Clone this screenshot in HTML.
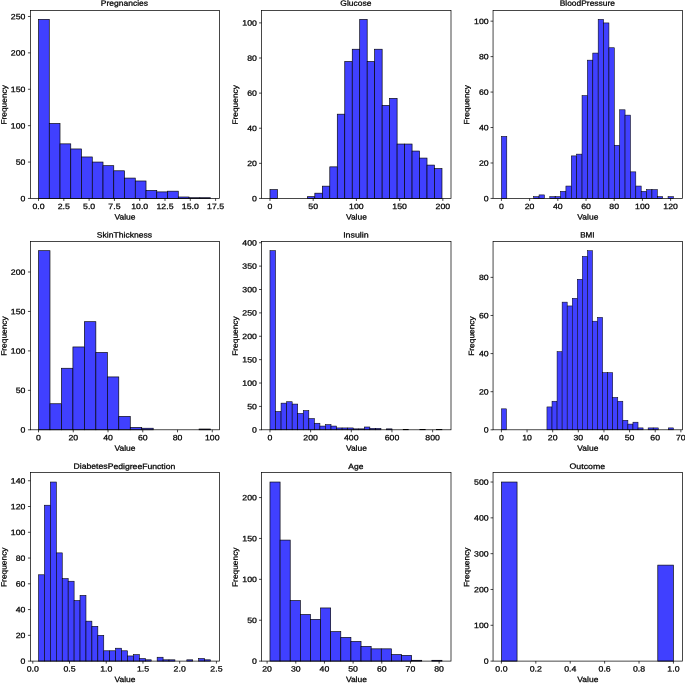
<!DOCTYPE html>
<html><head><meta charset="utf-8"><title>Histograms</title>
<style>
html,body{margin:0;padding:0;background:#fff;}
body{width:685px;height:683px;overflow:hidden;}
svg{display:block;will-change:transform;}
text{font-family:"Liberation Sans",sans-serif;font-size:7.7px;fill:#000;stroke:#000;stroke-width:0.25px;}
</style></head><body>
<svg width="685" height="683" viewBox="0 0 685 683">
<rect width="685" height="683" fill="#fff"/>
<g id="p0">
<g fill="#4040ff" stroke="#000" stroke-width="0.65">
<rect x="38.52" y="19.38" width="10.75" height="179.07"/>
<rect x="49.27" y="123.47" width="10.75" height="74.98"/>
<rect x="60.02" y="143.86" width="10.75" height="54.59"/>
<rect x="70.77" y="148.95" width="10.75" height="49.5"/>
<rect x="81.52" y="156.96" width="10.75" height="41.49"/>
<rect x="92.27" y="162.05" width="10.75" height="36.4"/>
<rect x="103.02" y="165.69" width="10.75" height="32.76"/>
<rect x="113.77" y="170.79" width="10.75" height="27.66"/>
<rect x="124.52" y="178.07" width="10.75" height="20.38"/>
<rect x="135.28" y="180.98" width="10.75" height="17.47"/>
<rect x="146.03" y="190.44" width="10.75" height="8.01"/>
<rect x="156.78" y="191.9" width="10.75" height="6.55"/>
<rect x="167.53" y="191.17" width="10.75" height="7.28"/>
<rect x="178.28" y="196.99" width="10.75" height="1.46"/>
<rect x="189.03" y="197.72" width="10.75" height="0.73"/>
<rect x="199.78" y="197.72" width="10.75" height="0.73"/>
</g>
<path d="M38.52 198.45v2.5M63.82 198.45v2.5M89.11 198.45v2.5M114.41 198.45v2.5M139.7 198.45v2.5M165 198.45v2.5M190.29 198.45v2.5M215.59 198.45v2.5M30.45 198.45h-2.5M30.45 162.05h-2.5M30.45 125.66h-2.5M30.45 89.26h-2.5M30.45 52.87h-2.5M30.45 16.47h-2.5" stroke="#000" stroke-width="0.72" fill="none"/>
<rect x="30.45" y="10.5" width="189.05" height="187.95" fill="none" stroke="#000" stroke-width="0.72"/>
<text transform="matrix(1 0.002 0 1 38.52 209)" text-anchor="middle" textLength="12.17" lengthAdjust="spacingAndGlyphs">0.0</text>
<text transform="matrix(1 0.002 0 1 63.82 209)" text-anchor="middle" textLength="12.17" lengthAdjust="spacingAndGlyphs">2.5</text>
<text transform="matrix(1 0.002 0 1 89.11 209)" text-anchor="middle" textLength="12.17" lengthAdjust="spacingAndGlyphs">5.0</text>
<text transform="matrix(1 0.002 0 1 114.41 209)" text-anchor="middle" textLength="12.17" lengthAdjust="spacingAndGlyphs">7.5</text>
<text transform="matrix(1 0.002 0 1 139.7 209)" text-anchor="middle" textLength="17.03" lengthAdjust="spacingAndGlyphs">10.0</text>
<text transform="matrix(1 0.002 0 1 165 209)" text-anchor="middle" textLength="17.03" lengthAdjust="spacingAndGlyphs">12.5</text>
<text transform="matrix(1 0.002 0 1 190.29 209)" text-anchor="middle" textLength="17.03" lengthAdjust="spacingAndGlyphs">15.0</text>
<text transform="matrix(1 0.002 0 1 215.59 209)" text-anchor="middle" textLength="17.03" lengthAdjust="spacingAndGlyphs">17.5</text>
<text transform="matrix(1 0.002 0 1 25.4 201.2)" text-anchor="end" textLength="4.87" lengthAdjust="spacingAndGlyphs">0</text>
<text transform="matrix(1 0.002 0 1 25.4 164.8)" text-anchor="end" textLength="9.73" lengthAdjust="spacingAndGlyphs">50</text>
<text transform="matrix(1 0.002 0 1 25.4 128.41)" text-anchor="end" textLength="14.6" lengthAdjust="spacingAndGlyphs">100</text>
<text transform="matrix(1 0.002 0 1 25.4 92.01)" text-anchor="end" textLength="14.6" lengthAdjust="spacingAndGlyphs">150</text>
<text transform="matrix(1 0.002 0 1 25.4 55.62)" text-anchor="end" textLength="14.6" lengthAdjust="spacingAndGlyphs">200</text>
<text transform="matrix(1 0.002 0 1 25.4 19.22)" text-anchor="end" textLength="14.6" lengthAdjust="spacingAndGlyphs">250</text>
<text transform="matrix(1 0.002 0 1 124.93 219.55)" text-anchor="middle" textLength="21.01" lengthAdjust="spacingAndGlyphs">Value</text>
<text transform="matrix(1 0.002 0 1 124.43 5.75)" text-anchor="middle" textLength="47.34" lengthAdjust="spacingAndGlyphs">Pregnancies</text>
<text transform="matrix(0.002 -1 1 0 6.63 104.86)" text-anchor="middle" textLength="39.52" lengthAdjust="spacingAndGlyphs">Frequency</text>
</g>
<g id="p1">
<g fill="#4040ff" stroke="#000" stroke-width="0.65">
<rect x="269.97" y="189.67" width="7.48" height="8.78"/>
<rect x="307.36" y="196.69" width="7.48" height="1.76"/>
<rect x="314.84" y="193.18" width="7.48" height="5.27"/>
<rect x="322.32" y="186.16" width="7.48" height="12.29"/>
<rect x="329.8" y="166.85" width="7.48" height="31.6"/>
<rect x="337.28" y="114.18" width="7.48" height="84.27"/>
<rect x="344.76" y="61.52" width="7.48" height="136.93"/>
<rect x="352.24" y="49.23" width="7.48" height="149.22"/>
<rect x="359.71" y="19.38" width="7.48" height="179.07"/>
<rect x="367.19" y="61.52" width="7.48" height="136.93"/>
<rect x="374.67" y="49.23" width="7.48" height="149.22"/>
<rect x="382.15" y="105.41" width="7.48" height="93.04"/>
<rect x="389.63" y="98.38" width="7.48" height="100.07"/>
<rect x="397.11" y="144.03" width="7.48" height="54.42"/>
<rect x="404.59" y="144.03" width="7.48" height="54.42"/>
<rect x="412.06" y="151.05" width="7.48" height="47.4"/>
<rect x="419.54" y="158.07" width="7.48" height="40.38"/>
<rect x="427.02" y="165.09" width="7.48" height="33.36"/>
<rect x="434.5" y="168.61" width="7.48" height="29.84"/>
</g>
<path d="M269.97 198.45v2.5M313.19 198.45v2.5M356.41 198.45v2.5M399.63 198.45v2.5M442.84 198.45v2.5M261.55 198.45h-2.5M261.55 163.34h-2.5M261.55 128.23h-2.5M261.55 93.12h-2.5M261.55 58.01h-2.5M261.55 22.89h-2.5" stroke="#000" stroke-width="0.72" fill="none"/>
<rect x="261.55" y="10.5" width="189.45" height="187.95" fill="none" stroke="#000" stroke-width="0.72"/>
<text transform="matrix(1 0.002 0 1 269.97 209)" text-anchor="middle" textLength="4.87" lengthAdjust="spacingAndGlyphs">0</text>
<text transform="matrix(1 0.002 0 1 313.19 209)" text-anchor="middle" textLength="9.73" lengthAdjust="spacingAndGlyphs">50</text>
<text transform="matrix(1 0.002 0 1 356.41 209)" text-anchor="middle" textLength="14.6" lengthAdjust="spacingAndGlyphs">100</text>
<text transform="matrix(1 0.002 0 1 399.63 209)" text-anchor="middle" textLength="14.6" lengthAdjust="spacingAndGlyphs">150</text>
<text transform="matrix(1 0.002 0 1 442.84 209)" text-anchor="middle" textLength="14.6" lengthAdjust="spacingAndGlyphs">200</text>
<text transform="matrix(1 0.002 0 1 256.95 201.2)" text-anchor="end" textLength="4.87" lengthAdjust="spacingAndGlyphs">0</text>
<text transform="matrix(1 0.002 0 1 256.95 166.09)" text-anchor="end" textLength="9.73" lengthAdjust="spacingAndGlyphs">20</text>
<text transform="matrix(1 0.002 0 1 256.95 130.98)" text-anchor="end" textLength="9.73" lengthAdjust="spacingAndGlyphs">40</text>
<text transform="matrix(1 0.002 0 1 256.95 95.87)" text-anchor="end" textLength="9.73" lengthAdjust="spacingAndGlyphs">60</text>
<text transform="matrix(1 0.002 0 1 256.95 60.76)" text-anchor="end" textLength="9.73" lengthAdjust="spacingAndGlyphs">80</text>
<text transform="matrix(1 0.002 0 1 256.95 25.64)" text-anchor="end" textLength="14.6" lengthAdjust="spacingAndGlyphs">100</text>
<text transform="matrix(1 0.002 0 1 356.38 219.55)" text-anchor="middle" textLength="21.01" lengthAdjust="spacingAndGlyphs">Value</text>
<text transform="matrix(1 0.002 0 1 355.88 5.75)" text-anchor="middle" textLength="31.08" lengthAdjust="spacingAndGlyphs">Glucose</text>
<text transform="matrix(0.002 -1 1 0 237.73 104.86)" text-anchor="middle" textLength="39.52" lengthAdjust="spacingAndGlyphs">Frequency</text>
</g>
<g id="p2">
<g fill="#4040ff" stroke="#000" stroke-width="0.54">
<rect x="501.42" y="136.4" width="5.38" height="62.05"/>
<rect x="533.67" y="196.68" width="5.38" height="1.77"/>
<rect x="539.05" y="194.9" width="5.38" height="3.55"/>
<rect x="549.8" y="196.68" width="5.38" height="1.77"/>
<rect x="555.17" y="196.68" width="5.38" height="1.77"/>
<rect x="560.55" y="191.36" width="5.38" height="7.09"/>
<rect x="565.92" y="186.04" width="5.38" height="12.41"/>
<rect x="571.3" y="155.9" width="5.38" height="42.55"/>
<rect x="576.67" y="154.13" width="5.38" height="44.32"/>
<rect x="582.05" y="95.62" width="5.38" height="102.83"/>
<rect x="587.43" y="60.16" width="5.38" height="138.29"/>
<rect x="592.8" y="53.07" width="5.38" height="145.38"/>
<rect x="598.18" y="19.38" width="5.38" height="179.07"/>
<rect x="603.55" y="22.93" width="5.38" height="175.52"/>
<rect x="608.93" y="47.75" width="5.38" height="150.7"/>
<rect x="614.3" y="145.26" width="5.38" height="53.19"/>
<rect x="619.68" y="109.8" width="5.38" height="88.65"/>
<rect x="625.05" y="115.12" width="5.38" height="83.33"/>
<rect x="630.43" y="171.86" width="5.38" height="26.59"/>
<rect x="635.8" y="186.04" width="5.38" height="12.41"/>
<rect x="641.18" y="191.36" width="5.38" height="7.09"/>
<rect x="646.55" y="189.59" width="5.38" height="8.86"/>
<rect x="651.93" y="189.59" width="5.38" height="8.86"/>
<rect x="657.3" y="196.68" width="5.38" height="1.77"/>
<rect x="668.05" y="196.68" width="5.38" height="1.77"/>
</g>
<path d="M501.42 198.45v2.5M529.62 198.45v2.5M557.82 198.45v2.5M586.02 198.45v2.5M614.21 198.45v2.5M642.41 198.45v2.5M670.61 198.45v2.5M493.05 198.45h-2.5M493.05 162.99h-2.5M493.05 127.53h-2.5M493.05 92.07h-2.5M493.05 56.62h-2.5M493.05 21.16h-2.5" stroke="#000" stroke-width="0.72" fill="none"/>
<rect x="493.05" y="10.5" width="189.4" height="187.95" fill="none" stroke="#000" stroke-width="0.72"/>
<text transform="matrix(1 0.002 0 1 501.42 209)" text-anchor="middle" textLength="4.87" lengthAdjust="spacingAndGlyphs">0</text>
<text transform="matrix(1 0.002 0 1 529.62 209)" text-anchor="middle" textLength="9.73" lengthAdjust="spacingAndGlyphs">20</text>
<text transform="matrix(1 0.002 0 1 557.82 209)" text-anchor="middle" textLength="9.73" lengthAdjust="spacingAndGlyphs">40</text>
<text transform="matrix(1 0.002 0 1 586.02 209)" text-anchor="middle" textLength="9.73" lengthAdjust="spacingAndGlyphs">60</text>
<text transform="matrix(1 0.002 0 1 614.21 209)" text-anchor="middle" textLength="9.73" lengthAdjust="spacingAndGlyphs">80</text>
<text transform="matrix(1 0.002 0 1 642.41 209)" text-anchor="middle" textLength="14.6" lengthAdjust="spacingAndGlyphs">100</text>
<text transform="matrix(1 0.002 0 1 670.61 209)" text-anchor="middle" textLength="14.6" lengthAdjust="spacingAndGlyphs">120</text>
<text transform="matrix(1 0.002 0 1 488.65 201.2)" text-anchor="end" textLength="4.87" lengthAdjust="spacingAndGlyphs">0</text>
<text transform="matrix(1 0.002 0 1 488.65 165.74)" text-anchor="end" textLength="9.73" lengthAdjust="spacingAndGlyphs">20</text>
<text transform="matrix(1 0.002 0 1 488.65 130.28)" text-anchor="end" textLength="9.73" lengthAdjust="spacingAndGlyphs">40</text>
<text transform="matrix(1 0.002 0 1 488.65 94.82)" text-anchor="end" textLength="9.73" lengthAdjust="spacingAndGlyphs">60</text>
<text transform="matrix(1 0.002 0 1 488.65 59.37)" text-anchor="end" textLength="9.73" lengthAdjust="spacingAndGlyphs">80</text>
<text transform="matrix(1 0.002 0 1 488.65 23.91)" text-anchor="end" textLength="14.6" lengthAdjust="spacingAndGlyphs">100</text>
<text transform="matrix(1 0.002 0 1 587.83 219.55)" text-anchor="middle" textLength="21.01" lengthAdjust="spacingAndGlyphs">Value</text>
<text transform="matrix(1 0.002 0 1 587.33 5.75)" text-anchor="middle" textLength="55.32" lengthAdjust="spacingAndGlyphs">BloodPressure</text>
<text transform="matrix(0.002 -1 1 0 469.23 104.86)" text-anchor="middle" textLength="39.52" lengthAdjust="spacingAndGlyphs">Frequency</text>
</g>
<g id="p3">
<g fill="#4040ff" stroke="#000" stroke-width="0.65">
<rect x="38.52" y="250.69" width="11.47" height="179.11"/>
<rect x="49.99" y="403.76" width="11.47" height="26.04"/>
<rect x="61.46" y="368.25" width="11.47" height="61.55"/>
<rect x="72.92" y="346.95" width="11.47" height="82.85"/>
<rect x="84.39" y="321.7" width="11.47" height="108.1"/>
<rect x="95.86" y="352.47" width="11.47" height="77.33"/>
<rect x="107.32" y="376.93" width="11.47" height="52.87"/>
<rect x="118.79" y="416.39" width="11.47" height="13.41"/>
<rect x="130.26" y="427.43" width="11.47" height="2.37"/>
<rect x="141.73" y="428.22" width="11.47" height="1.58"/>
<rect x="199.06" y="429.01" width="11.47" height="0.79"/>
</g>
<path d="M38.52 429.8v2.5M73.27 429.8v2.5M108.02 429.8v2.5M142.77 429.8v2.5M177.52 429.8v2.5M212.27 429.8v2.5M30.45 429.8h-2.5M30.45 390.35h-2.5M30.45 350.9h-2.5M30.45 311.44h-2.5M30.45 271.99h-2.5" stroke="#000" stroke-width="0.72" fill="none"/>
<rect x="30.45" y="241.5" width="189.05" height="188.3" fill="none" stroke="#000" stroke-width="0.72"/>
<text transform="matrix(1 0.002 0 1 38.52 440.35)" text-anchor="middle" textLength="4.87" lengthAdjust="spacingAndGlyphs">0</text>
<text transform="matrix(1 0.002 0 1 73.27 440.35)" text-anchor="middle" textLength="9.73" lengthAdjust="spacingAndGlyphs">20</text>
<text transform="matrix(1 0.002 0 1 108.02 440.35)" text-anchor="middle" textLength="9.73" lengthAdjust="spacingAndGlyphs">40</text>
<text transform="matrix(1 0.002 0 1 142.77 440.35)" text-anchor="middle" textLength="9.73" lengthAdjust="spacingAndGlyphs">60</text>
<text transform="matrix(1 0.002 0 1 177.52 440.35)" text-anchor="middle" textLength="9.73" lengthAdjust="spacingAndGlyphs">80</text>
<text transform="matrix(1 0.002 0 1 212.27 440.35)" text-anchor="middle" textLength="14.6" lengthAdjust="spacingAndGlyphs">100</text>
<text transform="matrix(1 0.002 0 1 25.4 432.55)" text-anchor="end" textLength="4.87" lengthAdjust="spacingAndGlyphs">0</text>
<text transform="matrix(1 0.002 0 1 25.4 393.1)" text-anchor="end" textLength="9.73" lengthAdjust="spacingAndGlyphs">50</text>
<text transform="matrix(1 0.002 0 1 25.4 353.65)" text-anchor="end" textLength="14.6" lengthAdjust="spacingAndGlyphs">100</text>
<text transform="matrix(1 0.002 0 1 25.4 314.19)" text-anchor="end" textLength="14.6" lengthAdjust="spacingAndGlyphs">150</text>
<text transform="matrix(1 0.002 0 1 25.4 274.74)" text-anchor="end" textLength="14.6" lengthAdjust="spacingAndGlyphs">200</text>
<text transform="matrix(1 0.002 0 1 124.93 450.8)" text-anchor="middle" textLength="21.01" lengthAdjust="spacingAndGlyphs">Value</text>
<text transform="matrix(1 0.002 0 1 124.43 237.5)" text-anchor="middle" textLength="55.13" lengthAdjust="spacingAndGlyphs">SkinThickness</text>
<text transform="matrix(0.002 -1 1 0 6.63 336.05)" text-anchor="middle" textLength="39.52" lengthAdjust="spacingAndGlyphs">Frequency</text>
</g>
<g id="p4">
<g fill="#4040ff" stroke="#000" stroke-width="0.56">
<rect x="269.97" y="250.69" width="5.55" height="179.11"/>
<rect x="275.52" y="411.56" width="5.55" height="18.24"/>
<rect x="281.07" y="403.14" width="5.55" height="26.66"/>
<rect x="286.62" y="401.74" width="5.55" height="28.06"/>
<rect x="292.17" y="404.08" width="5.55" height="25.72"/>
<rect x="297.71" y="413.43" width="5.55" height="16.37"/>
<rect x="303.26" y="410.63" width="5.55" height="19.17"/>
<rect x="308.81" y="418.58" width="5.55" height="11.22"/>
<rect x="314.36" y="423.25" width="5.55" height="6.55"/>
<rect x="319.91" y="426.06" width="5.55" height="3.74"/>
<rect x="325.46" y="424.66" width="5.55" height="5.14"/>
<rect x="331.01" y="426.06" width="5.55" height="3.74"/>
<rect x="336.55" y="427.93" width="5.55" height="1.87"/>
<rect x="342.1" y="427.93" width="5.55" height="1.87"/>
<rect x="347.65" y="427.93" width="5.55" height="1.87"/>
<rect x="353.2" y="428.86" width="5.55" height="0.94"/>
<rect x="358.75" y="428.86" width="5.55" height="0.94"/>
<rect x="364.3" y="426.99" width="5.55" height="2.81"/>
<rect x="369.85" y="428.4" width="5.55" height="1.4"/>
<rect x="375.4" y="428.4" width="5.55" height="1.4"/>
<rect x="386.49" y="428.86" width="5.55" height="0.94"/>
<rect x="403.14" y="429.33" width="5.55" height="0.47"/>
<rect x="419.78" y="429.33" width="5.55" height="0.47"/>
<rect x="436.43" y="429.33" width="5.55" height="0.47"/>
</g>
<path d="M269.97 429.8v2.5M310.63 429.8v2.5M351.3 429.8v2.5M391.96 429.8v2.5M432.63 429.8v2.5M261.55 429.8h-2.5M261.55 406.42h-2.5M261.55 383.03h-2.5M261.55 359.65h-2.5M261.55 336.27h-2.5M261.55 312.88h-2.5M261.55 289.5h-2.5M261.55 266.12h-2.5M261.55 242.74h-2.5" stroke="#000" stroke-width="0.72" fill="none"/>
<rect x="261.55" y="241.5" width="189.45" height="188.3" fill="none" stroke="#000" stroke-width="0.72"/>
<text transform="matrix(1 0.002 0 1 269.97 440.35)" text-anchor="middle" textLength="4.87" lengthAdjust="spacingAndGlyphs">0</text>
<text transform="matrix(1 0.002 0 1 310.63 440.35)" text-anchor="middle" textLength="14.6" lengthAdjust="spacingAndGlyphs">200</text>
<text transform="matrix(1 0.002 0 1 351.3 440.35)" text-anchor="middle" textLength="14.6" lengthAdjust="spacingAndGlyphs">400</text>
<text transform="matrix(1 0.002 0 1 391.96 440.35)" text-anchor="middle" textLength="14.6" lengthAdjust="spacingAndGlyphs">600</text>
<text transform="matrix(1 0.002 0 1 432.63 440.35)" text-anchor="middle" textLength="14.6" lengthAdjust="spacingAndGlyphs">800</text>
<text transform="matrix(1 0.002 0 1 256.95 432.55)" text-anchor="end" textLength="4.87" lengthAdjust="spacingAndGlyphs">0</text>
<text transform="matrix(1 0.002 0 1 256.95 409.17)" text-anchor="end" textLength="9.73" lengthAdjust="spacingAndGlyphs">50</text>
<text transform="matrix(1 0.002 0 1 256.95 385.78)" text-anchor="end" textLength="14.6" lengthAdjust="spacingAndGlyphs">100</text>
<text transform="matrix(1 0.002 0 1 256.95 362.4)" text-anchor="end" textLength="14.6" lengthAdjust="spacingAndGlyphs">150</text>
<text transform="matrix(1 0.002 0 1 256.95 339.02)" text-anchor="end" textLength="14.6" lengthAdjust="spacingAndGlyphs">200</text>
<text transform="matrix(1 0.002 0 1 256.95 315.63)" text-anchor="end" textLength="14.6" lengthAdjust="spacingAndGlyphs">250</text>
<text transform="matrix(1 0.002 0 1 256.95 292.25)" text-anchor="end" textLength="14.6" lengthAdjust="spacingAndGlyphs">300</text>
<text transform="matrix(1 0.002 0 1 256.95 268.87)" text-anchor="end" textLength="14.6" lengthAdjust="spacingAndGlyphs">350</text>
<text transform="matrix(1 0.002 0 1 256.95 245.49)" text-anchor="end" textLength="14.6" lengthAdjust="spacingAndGlyphs">400</text>
<text transform="matrix(1 0.002 0 1 356.38 450.8)" text-anchor="middle" textLength="21.01" lengthAdjust="spacingAndGlyphs">Value</text>
<text transform="matrix(1 0.002 0 1 355.88 237.5)" text-anchor="middle" textLength="25.53" lengthAdjust="spacingAndGlyphs">Insulin</text>
<text transform="matrix(0.002 -1 1 0 237.73 336.05)" text-anchor="middle" textLength="39.52" lengthAdjust="spacingAndGlyphs">Frequency</text>
</g>
<g id="p5">
<g fill="#4040ff" stroke="#000" stroke-width="0.51">
<rect x="501.42" y="408.84" width="5.06" height="20.96"/>
<rect x="546.95" y="406.93" width="5.06" height="22.87"/>
<rect x="552.01" y="401.22" width="5.06" height="28.58"/>
<rect x="557.07" y="351.68" width="5.06" height="78.12"/>
<rect x="562.13" y="302.13" width="5.06" height="127.67"/>
<rect x="567.19" y="305.94" width="5.06" height="123.86"/>
<rect x="572.25" y="298.32" width="5.06" height="131.48"/>
<rect x="577.31" y="279.27" width="5.06" height="150.53"/>
<rect x="582.37" y="256.4" width="5.06" height="173.4"/>
<rect x="587.43" y="250.69" width="5.06" height="179.11"/>
<rect x="592.48" y="321.19" width="5.06" height="108.61"/>
<rect x="597.54" y="317.38" width="5.06" height="112.42"/>
<rect x="602.6" y="372.64" width="5.06" height="57.16"/>
<rect x="607.66" y="372.64" width="5.06" height="57.16"/>
<rect x="612.72" y="397.41" width="5.06" height="32.39"/>
<rect x="617.78" y="401.22" width="5.06" height="28.58"/>
<rect x="622.84" y="420.27" width="5.06" height="9.53"/>
<rect x="627.9" y="424.08" width="5.06" height="5.72"/>
<rect x="632.96" y="422.18" width="5.06" height="7.62"/>
<rect x="638.02" y="427.89" width="5.06" height="1.91"/>
<rect x="648.13" y="427.89" width="5.06" height="1.91"/>
<rect x="653.19" y="427.89" width="5.06" height="1.91"/>
<rect x="668.37" y="427.89" width="5.06" height="1.91"/>
</g>
<path d="M501.42 429.8v2.5M527.06 429.8v2.5M552.69 429.8v2.5M578.32 429.8v2.5M603.96 429.8v2.5M629.59 429.8v2.5M655.23 429.8v2.5M680.86 429.8v2.5M493.05 429.8h-2.5M493.05 391.69h-2.5M493.05 353.58h-2.5M493.05 315.47h-2.5M493.05 277.36h-2.5" stroke="#000" stroke-width="0.72" fill="none"/>
<rect x="493.05" y="241.5" width="189.4" height="188.3" fill="none" stroke="#000" stroke-width="0.72"/>
<text transform="matrix(1 0.002 0 1 501.42 440.35)" text-anchor="middle" textLength="4.87" lengthAdjust="spacingAndGlyphs">0</text>
<text transform="matrix(1 0.002 0 1 527.06 440.35)" text-anchor="middle" textLength="9.73" lengthAdjust="spacingAndGlyphs">10</text>
<text transform="matrix(1 0.002 0 1 552.69 440.35)" text-anchor="middle" textLength="9.73" lengthAdjust="spacingAndGlyphs">20</text>
<text transform="matrix(1 0.002 0 1 578.32 440.35)" text-anchor="middle" textLength="9.73" lengthAdjust="spacingAndGlyphs">30</text>
<text transform="matrix(1 0.002 0 1 603.96 440.35)" text-anchor="middle" textLength="9.73" lengthAdjust="spacingAndGlyphs">40</text>
<text transform="matrix(1 0.002 0 1 629.59 440.35)" text-anchor="middle" textLength="9.73" lengthAdjust="spacingAndGlyphs">50</text>
<text transform="matrix(1 0.002 0 1 655.23 440.35)" text-anchor="middle" textLength="9.73" lengthAdjust="spacingAndGlyphs">60</text>
<text transform="matrix(1 0.002 0 1 680.86 440.35)" text-anchor="middle" textLength="9.73" lengthAdjust="spacingAndGlyphs">70</text>
<text transform="matrix(1 0.002 0 1 488.65 432.55)" text-anchor="end" textLength="4.87" lengthAdjust="spacingAndGlyphs">0</text>
<text transform="matrix(1 0.002 0 1 488.65 394.44)" text-anchor="end" textLength="9.73" lengthAdjust="spacingAndGlyphs">20</text>
<text transform="matrix(1 0.002 0 1 488.65 356.33)" text-anchor="end" textLength="9.73" lengthAdjust="spacingAndGlyphs">40</text>
<text transform="matrix(1 0.002 0 1 488.65 318.22)" text-anchor="end" textLength="9.73" lengthAdjust="spacingAndGlyphs">60</text>
<text transform="matrix(1 0.002 0 1 488.65 280.11)" text-anchor="end" textLength="9.73" lengthAdjust="spacingAndGlyphs">80</text>
<text transform="matrix(1 0.002 0 1 587.83 450.8)" text-anchor="middle" textLength="21.01" lengthAdjust="spacingAndGlyphs">Value</text>
<text transform="matrix(1 0.002 0 1 587.33 237.5)" text-anchor="middle" textLength="14.38" lengthAdjust="spacingAndGlyphs">BMI</text>
<text transform="matrix(0.002 -1 1 0 474.15 336.05)" text-anchor="middle" textLength="39.52" lengthAdjust="spacingAndGlyphs">Frequency</text>
</g>
<g id="p6">
<g fill="#4040ff" stroke="#000" stroke-width="0.59">
<rect x="38.52" y="574.79" width="5.93" height="86.31"/>
<rect x="44.45" y="505.22" width="5.93" height="155.88"/>
<rect x="50.38" y="482.03" width="5.93" height="179.07"/>
<rect x="56.31" y="552.89" width="5.93" height="108.21"/>
<rect x="62.25" y="578.65" width="5.93" height="82.45"/>
<rect x="68.18" y="581.23" width="5.93" height="79.87"/>
<rect x="74.11" y="600.55" width="5.93" height="60.55"/>
<rect x="80.04" y="595.4" width="5.93" height="65.7"/>
<rect x="85.97" y="621.16" width="5.93" height="39.94"/>
<rect x="91.9" y="626.32" width="5.93" height="34.78"/>
<rect x="97.83" y="635.34" width="5.93" height="25.76"/>
<rect x="103.77" y="650.79" width="5.93" height="10.31"/>
<rect x="109.7" y="650.79" width="5.93" height="10.31"/>
<rect x="115.63" y="648.22" width="5.93" height="12.88"/>
<rect x="121.56" y="650.79" width="5.93" height="10.31"/>
<rect x="127.49" y="655.95" width="5.93" height="5.15"/>
<rect x="133.42" y="654.66" width="5.93" height="6.44"/>
<rect x="139.35" y="658.52" width="5.93" height="2.58"/>
<rect x="145.28" y="659.81" width="5.93" height="1.29"/>
<rect x="157.15" y="657.24" width="5.93" height="3.86"/>
<rect x="163.08" y="659.81" width="5.93" height="1.29"/>
<rect x="169.01" y="659.81" width="5.93" height="1.29"/>
<rect x="186.8" y="659.81" width="5.93" height="1.29"/>
<rect x="198.67" y="658.52" width="5.93" height="2.58"/>
<rect x="204.6" y="659.81" width="5.93" height="1.29"/>
</g>
<path d="M32.79 661.1v2.5M69.51 661.1v2.5M106.24 661.1v2.5M142.96 661.1v2.5M179.68 661.1v2.5M216.41 661.1v2.5M30.45 661.1h-2.5M30.45 635.34h-2.5M30.45 609.57h-2.5M30.45 583.81h-2.5M30.45 558.04h-2.5M30.45 532.28h-2.5M30.45 506.51h-2.5M30.45 480.75h-2.5" stroke="#000" stroke-width="0.72" fill="none"/>
<rect x="30.45" y="472.6" width="189.05" height="188.5" fill="none" stroke="#000" stroke-width="0.72"/>
<text transform="matrix(1 0.002 0 1 32.79 671.6)" text-anchor="middle" textLength="12.17" lengthAdjust="spacingAndGlyphs">0.0</text>
<text transform="matrix(1 0.002 0 1 69.51 671.6)" text-anchor="middle" textLength="12.17" lengthAdjust="spacingAndGlyphs">0.5</text>
<text transform="matrix(1 0.002 0 1 106.24 671.6)" text-anchor="middle" textLength="12.17" lengthAdjust="spacingAndGlyphs">1.0</text>
<text transform="matrix(1 0.002 0 1 142.96 671.6)" text-anchor="middle" textLength="12.17" lengthAdjust="spacingAndGlyphs">1.5</text>
<text transform="matrix(1 0.002 0 1 179.68 671.6)" text-anchor="middle" textLength="12.17" lengthAdjust="spacingAndGlyphs">2.0</text>
<text transform="matrix(1 0.002 0 1 216.41 671.6)" text-anchor="middle" textLength="12.17" lengthAdjust="spacingAndGlyphs">2.5</text>
<text transform="matrix(1 0.002 0 1 25.4 663.85)" text-anchor="end" textLength="4.87" lengthAdjust="spacingAndGlyphs">0</text>
<text transform="matrix(1 0.002 0 1 25.4 638.09)" text-anchor="end" textLength="9.73" lengthAdjust="spacingAndGlyphs">20</text>
<text transform="matrix(1 0.002 0 1 25.4 612.32)" text-anchor="end" textLength="9.73" lengthAdjust="spacingAndGlyphs">40</text>
<text transform="matrix(1 0.002 0 1 25.4 586.56)" text-anchor="end" textLength="9.73" lengthAdjust="spacingAndGlyphs">60</text>
<text transform="matrix(1 0.002 0 1 25.4 560.79)" text-anchor="end" textLength="9.73" lengthAdjust="spacingAndGlyphs">80</text>
<text transform="matrix(1 0.002 0 1 25.4 535.03)" text-anchor="end" textLength="14.6" lengthAdjust="spacingAndGlyphs">100</text>
<text transform="matrix(1 0.002 0 1 25.4 509.26)" text-anchor="end" textLength="14.6" lengthAdjust="spacingAndGlyphs">120</text>
<text transform="matrix(1 0.002 0 1 25.4 483.5)" text-anchor="end" textLength="14.6" lengthAdjust="spacingAndGlyphs">140</text>
<text transform="matrix(1 0.002 0 1 124.93 681.9)" text-anchor="middle" textLength="21.01" lengthAdjust="spacingAndGlyphs">Value</text>
<text transform="matrix(1 0.002 0 1 124.43 468.9)" text-anchor="middle" textLength="101.73" lengthAdjust="spacingAndGlyphs">DiabetesPedigreeFunction</text>
<text transform="matrix(0.002 -1 1 0 6.57 567.25)" text-anchor="middle" textLength="39.52" lengthAdjust="spacingAndGlyphs">Frequency</text>
</g>
<g id="p7">
<g fill="#4040ff" stroke="#000" stroke-width="0.65">
<rect x="269.97" y="482.03" width="10.12" height="179.07"/>
<rect x="280.09" y="540.09" width="10.12" height="121.01"/>
<rect x="290.21" y="600.59" width="10.12" height="60.51"/>
<rect x="300.32" y="614.49" width="10.12" height="46.61"/>
<rect x="310.44" y="619.4" width="10.12" height="41.7"/>
<rect x="320.56" y="607.95" width="10.12" height="53.15"/>
<rect x="330.68" y="631.66" width="10.12" height="29.44"/>
<rect x="340.8" y="637.39" width="10.12" height="23.71"/>
<rect x="350.92" y="641.48" width="10.12" height="19.62"/>
<rect x="361.03" y="646.38" width="10.12" height="14.72"/>
<rect x="371.15" y="648.84" width="10.12" height="12.26"/>
<rect x="381.27" y="648.84" width="10.12" height="12.26"/>
<rect x="391.39" y="654.56" width="10.12" height="6.54"/>
<rect x="401.51" y="655.38" width="10.12" height="5.72"/>
<rect x="411.62" y="660.28" width="10.12" height="0.82"/>
<rect x="431.86" y="660.28" width="10.12" height="0.82"/>
</g>
<path d="M267.1 661.1v2.5M295.77 661.1v2.5M324.44 661.1v2.5M353.11 661.1v2.5M381.78 661.1v2.5M410.44 661.1v2.5M439.11 661.1v2.5M261.55 661.1h-2.5M261.55 620.22h-2.5M261.55 579.33h-2.5M261.55 538.45h-2.5M261.55 497.57h-2.5" stroke="#000" stroke-width="0.72" fill="none"/>
<rect x="261.55" y="472.6" width="189.45" height="188.5" fill="none" stroke="#000" stroke-width="0.72"/>
<text transform="matrix(1 0.002 0 1 267.1 671.6)" text-anchor="middle" textLength="9.73" lengthAdjust="spacingAndGlyphs">20</text>
<text transform="matrix(1 0.002 0 1 295.77 671.6)" text-anchor="middle" textLength="9.73" lengthAdjust="spacingAndGlyphs">30</text>
<text transform="matrix(1 0.002 0 1 324.44 671.6)" text-anchor="middle" textLength="9.73" lengthAdjust="spacingAndGlyphs">40</text>
<text transform="matrix(1 0.002 0 1 353.11 671.6)" text-anchor="middle" textLength="9.73" lengthAdjust="spacingAndGlyphs">50</text>
<text transform="matrix(1 0.002 0 1 381.78 671.6)" text-anchor="middle" textLength="9.73" lengthAdjust="spacingAndGlyphs">60</text>
<text transform="matrix(1 0.002 0 1 410.44 671.6)" text-anchor="middle" textLength="9.73" lengthAdjust="spacingAndGlyphs">70</text>
<text transform="matrix(1 0.002 0 1 439.11 671.6)" text-anchor="middle" textLength="9.73" lengthAdjust="spacingAndGlyphs">80</text>
<text transform="matrix(1 0.002 0 1 256.95 663.85)" text-anchor="end" textLength="4.87" lengthAdjust="spacingAndGlyphs">0</text>
<text transform="matrix(1 0.002 0 1 256.95 622.97)" text-anchor="end" textLength="9.73" lengthAdjust="spacingAndGlyphs">50</text>
<text transform="matrix(1 0.002 0 1 256.95 582.08)" text-anchor="end" textLength="14.6" lengthAdjust="spacingAndGlyphs">100</text>
<text transform="matrix(1 0.002 0 1 256.95 541.2)" text-anchor="end" textLength="14.6" lengthAdjust="spacingAndGlyphs">150</text>
<text transform="matrix(1 0.002 0 1 256.95 500.32)" text-anchor="end" textLength="14.6" lengthAdjust="spacingAndGlyphs">200</text>
<text transform="matrix(1 0.002 0 1 356.38 681.9)" text-anchor="middle" textLength="21.01" lengthAdjust="spacingAndGlyphs">Value</text>
<text transform="matrix(1 0.002 0 1 355.88 468.9)" text-anchor="middle" textLength="15.09" lengthAdjust="spacingAndGlyphs">Age</text>
<text transform="matrix(0.002 -1 1 0 237.73 567.25)" text-anchor="middle" textLength="39.52" lengthAdjust="spacingAndGlyphs">Frequency</text>
</g>
<g id="p8">
<g fill="#4040ff" stroke="#000" stroke-width="0.65">
<rect x="501.42" y="482.03" width="15.64" height="179.07"/>
<rect x="657.79" y="565.12" width="15.64" height="95.98"/>
</g>
<path d="M501.42 661.1v2.5M535.82 661.1v2.5M570.22 661.1v2.5M604.63 661.1v2.5M639.03 661.1v2.5M673.43 661.1v2.5M493.05 661.1h-2.5M493.05 625.29h-2.5M493.05 589.47h-2.5M493.05 553.66h-2.5M493.05 517.85h-2.5M493.05 482.03h-2.5" stroke="#000" stroke-width="0.72" fill="none"/>
<rect x="493.05" y="472.6" width="189.4" height="188.5" fill="none" stroke="#000" stroke-width="0.72"/>
<text transform="matrix(1 0.002 0 1 501.42 671.6)" text-anchor="middle" textLength="12.17" lengthAdjust="spacingAndGlyphs">0.0</text>
<text transform="matrix(1 0.002 0 1 535.82 671.6)" text-anchor="middle" textLength="12.17" lengthAdjust="spacingAndGlyphs">0.2</text>
<text transform="matrix(1 0.002 0 1 570.22 671.6)" text-anchor="middle" textLength="12.17" lengthAdjust="spacingAndGlyphs">0.4</text>
<text transform="matrix(1 0.002 0 1 604.63 671.6)" text-anchor="middle" textLength="12.17" lengthAdjust="spacingAndGlyphs">0.6</text>
<text transform="matrix(1 0.002 0 1 639.03 671.6)" text-anchor="middle" textLength="12.17" lengthAdjust="spacingAndGlyphs">0.8</text>
<text transform="matrix(1 0.002 0 1 673.43 671.6)" text-anchor="middle" textLength="12.17" lengthAdjust="spacingAndGlyphs">1.0</text>
<text transform="matrix(1 0.002 0 1 488.65 663.85)" text-anchor="end" textLength="4.87" lengthAdjust="spacingAndGlyphs">0</text>
<text transform="matrix(1 0.002 0 1 488.65 628.04)" text-anchor="end" textLength="14.6" lengthAdjust="spacingAndGlyphs">100</text>
<text transform="matrix(1 0.002 0 1 488.65 592.22)" text-anchor="end" textLength="14.6" lengthAdjust="spacingAndGlyphs">200</text>
<text transform="matrix(1 0.002 0 1 488.65 556.41)" text-anchor="end" textLength="14.6" lengthAdjust="spacingAndGlyphs">300</text>
<text transform="matrix(1 0.002 0 1 488.65 520.6)" text-anchor="end" textLength="14.6" lengthAdjust="spacingAndGlyphs">400</text>
<text transform="matrix(1 0.002 0 1 488.65 484.78)" text-anchor="end" textLength="14.6" lengthAdjust="spacingAndGlyphs">500</text>
<text transform="matrix(1 0.002 0 1 587.83 681.9)" text-anchor="middle" textLength="21.01" lengthAdjust="spacingAndGlyphs">Value</text>
<text transform="matrix(1 0.002 0 1 587.33 468.9)" text-anchor="middle" textLength="35.6" lengthAdjust="spacingAndGlyphs">Outcome</text>
<text transform="matrix(0.002 -1 1 0 469.23 567.25)" text-anchor="middle" textLength="39.52" lengthAdjust="spacingAndGlyphs">Frequency</text>
</g>
</svg>
</body></html>
